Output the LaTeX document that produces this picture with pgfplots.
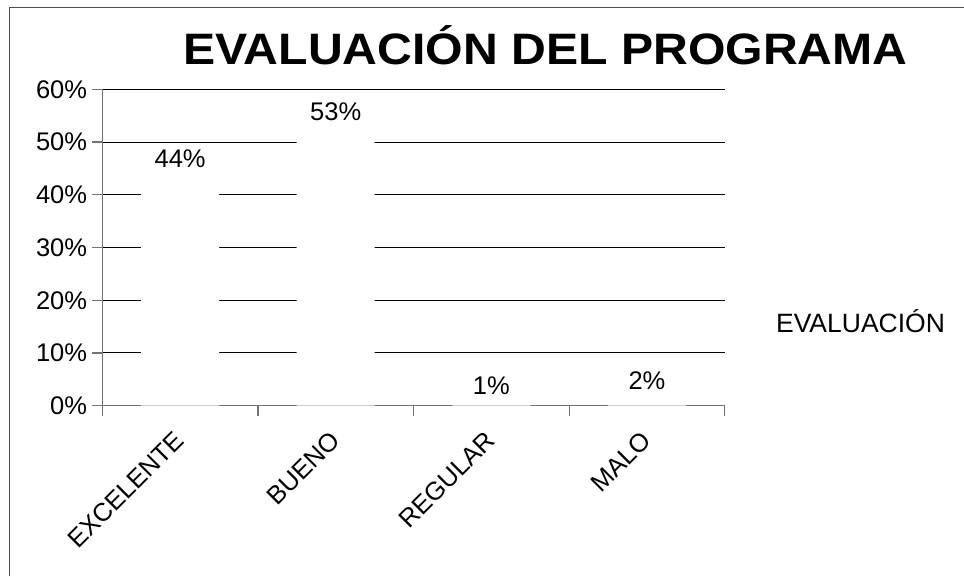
\documentclass[border=0pt]{standalone}
\usepackage{fontspec}
\setmainfont{Liberation Sans}
\usepackage{pgfplots}
\pgfplotsset{compat=1.18}
\usepackage{graphicx}
\begin{document}
\begin{tikzpicture}
\useasboundingbox (0,0) rectangle (964pt,576pt);
\draw[line width=1.5pt, black!70] (9.3pt,0pt) -- (9.3pt,568.7pt) -- (964pt,568.7pt);
\node[anchor=base west, inner sep=0pt] at (183pt,511pt)
  {\scalebox{1.095}[1]{\fontsize{44}{50}\selectfont\bfseries EVALUACIÓN DEL PROGRAMA}};
\begin{axis}[
  at={(102.3pt,170.3pt)}, anchor=south west,
  scale only axis, width=622.5pt, height=316.4pt,
  xmin=0, xmax=4, ymin=0, ymax=60,
  ybar, bar width=78pt, bar shift=0pt,
  axis lines*=left,
  axis line style={-, draw=black!55, line width=1.2pt},
  tick align=outside,
  major tick length=10pt, minor tick length=10pt,
  tick style={draw=black!55, line width=1.2pt},
  ymajorgrids, grid style={black, line width=1pt},
  ytick={0,10,...,60},
  yticklabel={\pgfmathprintnumber{\tick}\%},
  ytick pos=left,
  xtick={0.5,1.5,2.5,3.5},
  xticklabels={EXCELENTE,BUENO,REGULAR,MALO},
  minor xtick={0,1,2,3,4},
  major x tick style={draw=none},
  xtick pos=bottom,
  /pgf/number format/assume math mode=true,
  ticklabel style={font=\fontsize{25.5}{30}\selectfont},
  yticklabel style={inner sep=0pt, xshift=-5pt},
  xticklabel style={inner sep=0pt, xshift=-7pt, yshift=-14pt, rotate=45, anchor=north east},
  nodes near coords={\pgfmathprintnumber{\pgfplotspointmeta}\%},
  nodes near coords style={font=\fontsize{25.5}{30}\selectfont, inner sep=0pt, yshift=5.5pt, text=black},
  legend style={draw=none, fill=none, at={(axis description cs:1.066,0.265)}, anchor=west,
    font=\fontsize{26.5}{30}\selectfont, inner sep=0pt},
  legend image code/.code={\fill[white] (0pt,-4pt) rectangle (8pt,4pt);},
]
\addplot[fill=white, draw=none] coordinates {(0.5,44) (1.5,53) (2.5,1) (3.5,2)};
\addlegendentry{EVALUACIÓN}
\end{axis}
\end{tikzpicture}
\end{document}
